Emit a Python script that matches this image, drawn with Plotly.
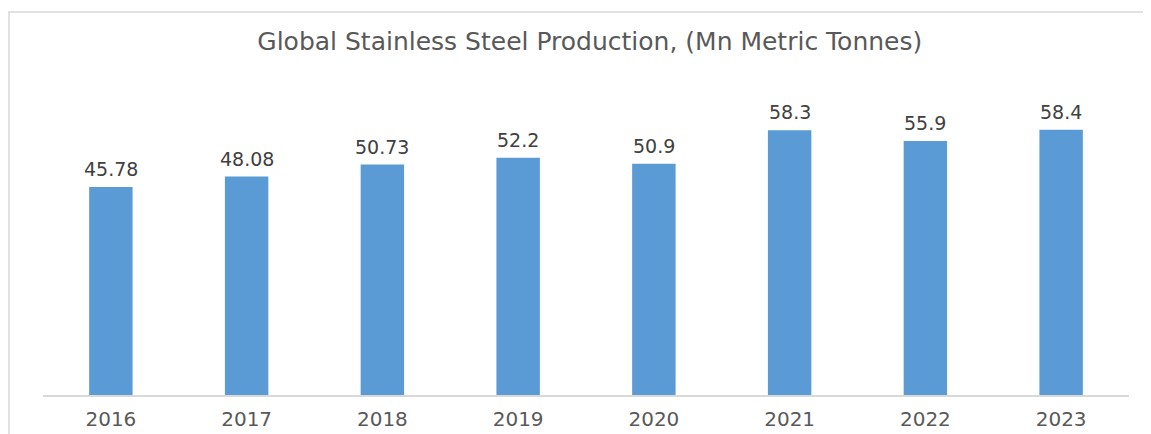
import plotly.graph_objects as go

years = ["2016", "2017", "2018", "2019", "2020", "2021", "2022", "2023"]
production = [45.78, 48.08, 50.73, 52.2, 50.9, 58.3, 55.9, 58.4]
value_labels = ["45.78", "48.08", "50.73", "52.2", "50.9", "58.3", "55.9", "58.4"]
title_text = "Global Stainless Steel Production, (Mn Metric Tonnes)"

FONT = "DejaVu Sans"

fig = go.Figure()
fig.add_trace(go.Bar(
    x=years, y=production,
    marker=dict(color="#5B9BD5", line=dict(width=0)),
    width=0.32,
    hoverinfo="x+y",
))

# category index positions for labels (category axis)
for i, (v, lbl) in enumerate(zip(production, value_labels)):
    fig.add_annotation(
        x=i, y=v, text=lbl, showarrow=False,
        yanchor="bottom", yshift=5,
        font=dict(family=FONT, size=19, color="#404040"),
    )

fig.add_shape(
    type="rect", xref="paper", yref="paper",
    x0=-0.0313, x1=1.06, y0=-0.25, y1=1.2044,
    line=dict(color="#D9D9D9", width=1.5), fillcolor="rgba(0,0,0,0)",
    layer="below",
)

# page body has an 8px margin, so the figure is sized 8px smaller
fig.update_layout(
    width=1143, height=426,
    margin=dict(l=35, r=22, t=69, b=39, autoexpand=False),
    paper_bgcolor="white", plot_bgcolor="white",
    showlegend=False,
    title=dict(
        text=title_text, x=0.509, xanchor="center", y=0.9225, yanchor="middle",
        font=dict(family=FONT, size=25, color="#595959"),
    ),
    xaxis=dict(
        type="category",
        categoryorder="array", categoryarray=years,
        range=[-0.5, len(years) - 0.5],
        showline=True, linecolor="#D9D9D9", linewidth=1.5,
        ticks="", showgrid=False,
        tickfont=dict(family=FONT, size=20, color="#595959"),
        ticklabelstandoff=5,
        automargin=False,
    ),
    yaxis=dict(
        range=[0, 70], visible=False, showgrid=False, zeroline=False,
    ),
)

fig.write_html("out.html")
